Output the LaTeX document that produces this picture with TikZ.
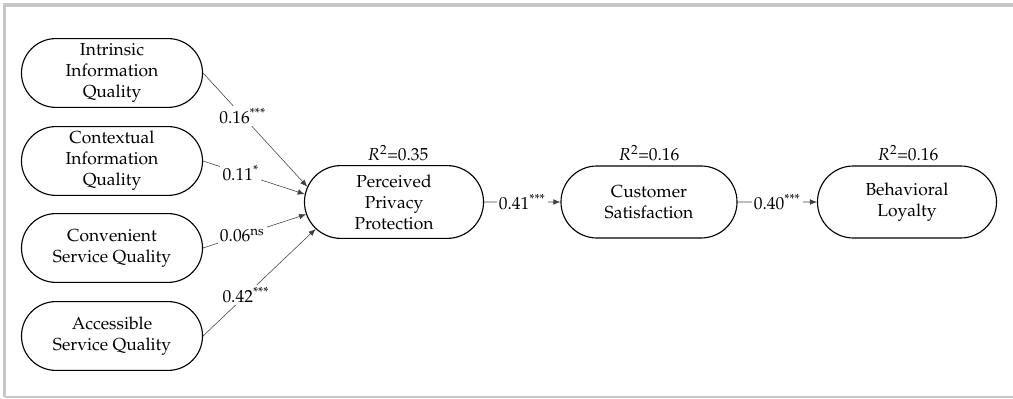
\documentclass[tikz,border=0pt]{standalone}
\usepackage[T1]{fontenc}
\usepackage{mathpazo}
\usetikzlibrary{shapes.misc,arrows.meta}
\tikzset{
  construct/.style={draw, rounded rectangle, align=center, line width=0.8pt,
    inner sep=0pt, font=\fontsize{12.4}{15}\selectfont},
  pathline/.style={-{Latex[length=5pt,width=4pt]}, line width=0.4pt, black!75},
  coef/.style={fill=white, text=black, inner sep=1.5pt, font=\fontsize{12.4}{15}\selectfont},
  rsq/.style={font=\fontsize{12.4}{15}\selectfont},
}
\begin{document}
\begin{tikzpicture}[x=0.025cm,y=-0.025cm]
  \useasboundingbox (0,0) rectangle (1013,399);
  % frame
  \draw[black!22,line width=3pt] (3,5) -- (1013,5);
  \draw[black!22,line width=2pt] (4.5,5) -- (4.5,397);
  \draw[black!22,line width=1.2pt] (4.5,397) -- (1013,397);
  % exogenous constructs
  \node[construct, minimum width=4.525cm, minimum height=1.72cm] (intrinsic) at (112,73)
    {Intrinsic\\Information\\Quality};
  \node[construct, minimum width=4.525cm, minimum height=1.72cm] (contextual) at (112,161)
    {Contextual\\Information\\Quality};
  \node[construct, minimum width=4.525cm, minimum height=1.72cm] (convenient) at (112,248)
    {Convenient\\Service Quality};
  \node[construct, minimum width=4.525cm, minimum height=1.72cm] (accessible) at (112,336)
    {Accessible\\Service Quality};
  % endogenous constructs
  \node[construct, minimum width=4.475cm, minimum height=1.82cm] (privacy) at (394,202)
    {Perceived\\Privacy\\Protection};
  \node[construct, minimum width=4.4cm, minimum height=1.8cm] (satisfaction) at (649,202)
    {Customer\\Satisfaction};
  \node[construct, minimum width=4.475cm, minimum height=1.8cm] (loyalty) at (907,202)
    {Behavioral\\Loyalty};
  \node[rsq] (rprivacy) at (398,153) {$R^2$=0.35};
  \node[rsq] (rsatisfaction) at (649,153) {$R^2$=0.16};
  \node[rsq] (rloyalty) at (908,153) {$R^2$=0.16};
  % paths
  \draw[pathline] (intrinsic.east) -- node[coef, pos=0.38] {0.16\textsuperscript{***}} (privacy.170);
  \draw[pathline] (contextual.east) -- node[coef, pos=0.37] {0.11\textsuperscript{*}} (privacy.175);
  \draw[pathline] (convenient.east) -- node[coef, pos=0.38] {0.06\textsuperscript{ns}} (privacy.188);
  \draw[pathline] (accessible.east) -- node[coef, pos=0.38] {0.42\textsuperscript{***}} (privacy.199);
  \draw[pathline] (privacy) -- node[coef] {0.41\textsuperscript{***}} (satisfaction);
  \draw[pathline] (satisfaction) -- node[coef] {0.40\textsuperscript{***}} (loyalty);
\end{tikzpicture}
\end{document}
